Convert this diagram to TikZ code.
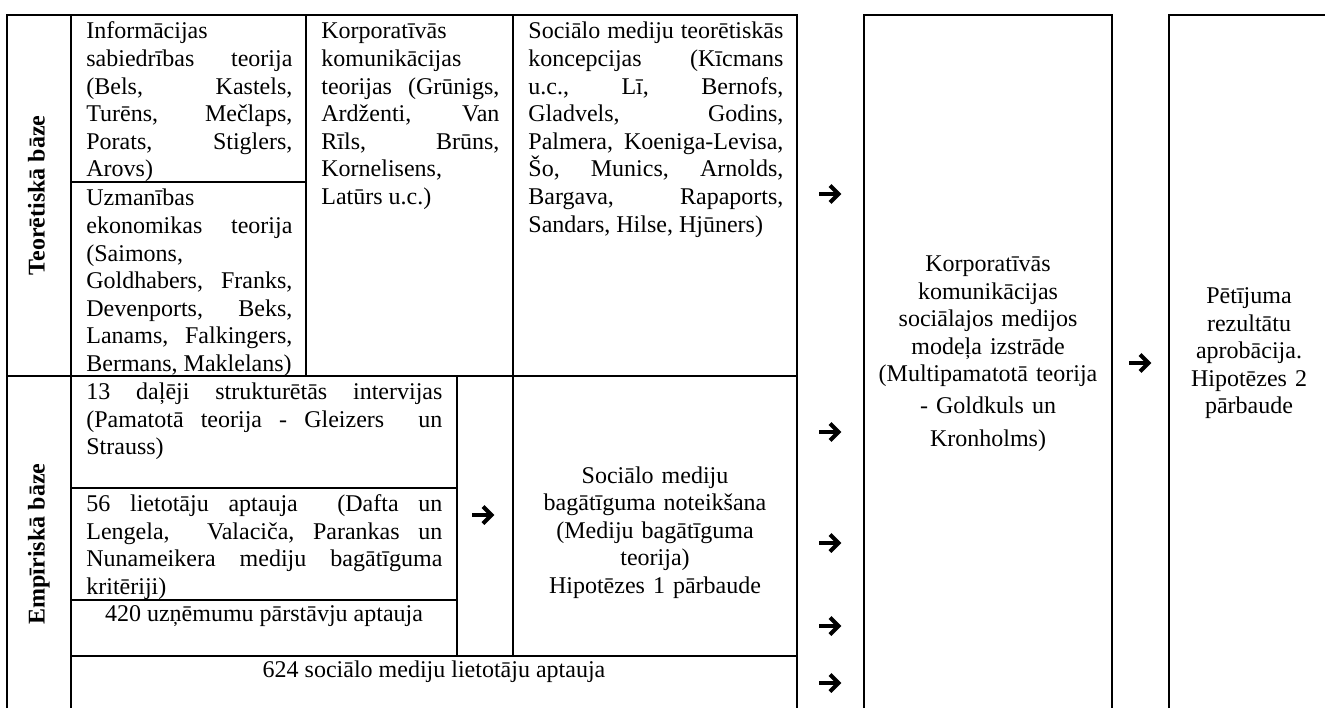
\documentclass[tikz,border=0pt]{standalone}
\usepackage{fontspec}
\setmainfont{Liberation Serif}
\setlength{\parindent}{0pt}
\hyphenpenalty=10000
\exhyphenpenalty=10000
\tolerance=10000
\hbadness=10000
\frenchspacing
% zero-width strut that fixes the first baseline of a cell paragraph
\newcommand{\firstline}{\rule{0pt}{11pt}}

\begin{document}
\begin{tikzpicture}[x=0.5pt, y=-0.5pt,
  font=\fontsize{12}{13.8}\selectfont,
  gridline/.style={line width=0.8pt, line join=miter},
  celltext/.style={anchor=north west, inner sep=0pt, align=justify},
  centertext/.style={anchor=north, inner sep=0pt, align=center},
  sidelabel/.style={rotate=90, anchor=base, inner sep=0pt,
    font=\fontsize{12}{13.8}\selectfont\bfseries},
  arrowstroke/.style={line width=2pt, line join=miter, line cap=butt},
  rarrow/.pic={
    \draw[arrowstroke] (-11,0) -- (8,0);
    \draw[arrowstroke] (0,-8.5) -- (8.5,0) -- (0,8.5);
  }]
\useasboundingbox (0,0) rectangle (1325,708);
\fill[white] (0,0) rectangle (1325,708);

% ---- table: theoretical and empirical base ----
\draw[gridline] (7,708) -- (7,15) -- (797,15) -- (797,708);
\draw[gridline] (71,15) -- (71,708);
\draw[gridline] (306,15) -- (306,376);
\draw[gridline] (513,15) -- (513,656);
\draw[gridline] (71,182) -- (306,182);
\draw[gridline] (7,376) -- (797,376);
\draw[gridline] (457,376) -- (457,656);
\draw[gridline] (71,488) -- (457,488);
\draw[gridline] (71,600) -- (457,600);
\draw[gridline] (71,656) -- (797,656);

% ---- result columns ----
\draw[gridline] (864,708) -- (864,15) -- (1112,15) -- (1112,708);
\draw[gridline] (1169,708) -- (1169,15) -- (1330,15);

% ---- row labels ----
\node[sidelabel] (teor) at (44.5,195.5) {Teorētiskā bāze};
\node[sidelabel] (empir) at (44.5,544) {Empīriskā bāze};

% ---- theoretical cells ----
\node[celltext, text width=103pt] (info) at (86,16.5)
  {\firstline Informācijas\newline
   sabiedrības teorija\linebreak
   (Bels, Kastels,\linebreak
   Turēns, Mečlaps,\linebreak
   Porats, Stiglers,\linebreak
   Arovs)};
\node[celltext, text width=103pt] (uzman) at (86,183.5)
  {\firstline Uzmanības\newline
   ekonomikas teorija\linebreak
   (Saimons,\newline
   Goldhabers, Franks,\linebreak
   Devenports, Beks,\linebreak
   Lanams, Falkingers,\linebreak
   Bermans, Maklelans)};
\node[celltext, text width=89pt] (korp) at (321,16.5)
  {\firstline Korporatīvās\newline
   komunikācijas\newline
   teorijas (Grūnigs,\linebreak
   Ardženti, Van\linebreak
   Rīls, Brūns,\linebreak
   Kornelisens,\newline
   Latūrs u.c.)};
\node[celltext, text width=127.5pt] (socteor) at (528,16.5)
  {\firstline Sociālo mediju teorētiskās\linebreak
   koncepcijas (Kīcmans\linebreak
   u.c., Lī, Bernofs,\linebreak
   Gladvels, Godins,\linebreak
   Palmera, Koeniga-Levisa,\linebreak
   Šo, Munics, Arnolds,\linebreak
   Bargava, Rapaports,\linebreak
   Sandars, Hilse, Hjūners)};

% ---- empirical cells ----
\node[celltext, text width=178pt] (interv) at (86,377)
  {\firstline 13 daļēji strukturētās intervijas\linebreak
   (Pamatotā teorija - Gleizers\ \ un\linebreak
   Strauss)};
\node[celltext, text width=178pt] (liet) at (86,489)
  {\firstline 56 lietotāju aptauja\ \ (Dafta un\linebreak
   Lengela,\ \ Valaciča, Parankas un\linebreak
   Nunameikera mediju bagātīguma\linebreak
   kritēriji)};
\node[anchor=base, inner sep=0pt] (uzn) at (264,621)
  {420 uzņēmumu pārstāvju aptauja};
\node[anchor=base, inner sep=0pt] (socliet) at (434,677)
  {624 sociālo mediju lietotāju aptauja};
\node[centertext, text width=135pt] (bagat) at (655,460.7)
  {\firstline Sociālo mediju\\
   bagātīguma noteikšana\\
   (Mediju bagātīguma\\
   teorija)\\
   Hipotēzes 1 pārbaude};

% ---- model and approbation ----
\node[centertext, text width=124pt] (model) at (988,249)
  {\firstline Korporatīvās\\
   komunikācijas\\
   sociālajos medijos\\
   modeļa izstrāde\\
   (Multipamatotā teorija\\[1.8pt]
   - Goldkuls un\\[2.7pt]
   Kronholms)};
\node[centertext, text width=75pt] (aprob) at (1249,281)
  {\firstline Pētījuma\\
   rezultātu\\
   aprobācija.\\
   Hipotēzes 2\\
   pārbaude};

% ---- arrow marks ----
\coordinate (a1) at (830,194);
\coordinate (a2) at (830,432);
\coordinate (a3) at (830,543);
\coordinate (a4) at (830,626);
\coordinate (a5) at (830,683);
\coordinate (a6) at (483,515);
\coordinate (a7) at (1140,363);
\foreach \p in {a1,a2,a3,a4,a5,a6,a7} \pic at (\p) {rarrow};
\end{tikzpicture}
\end{document}
